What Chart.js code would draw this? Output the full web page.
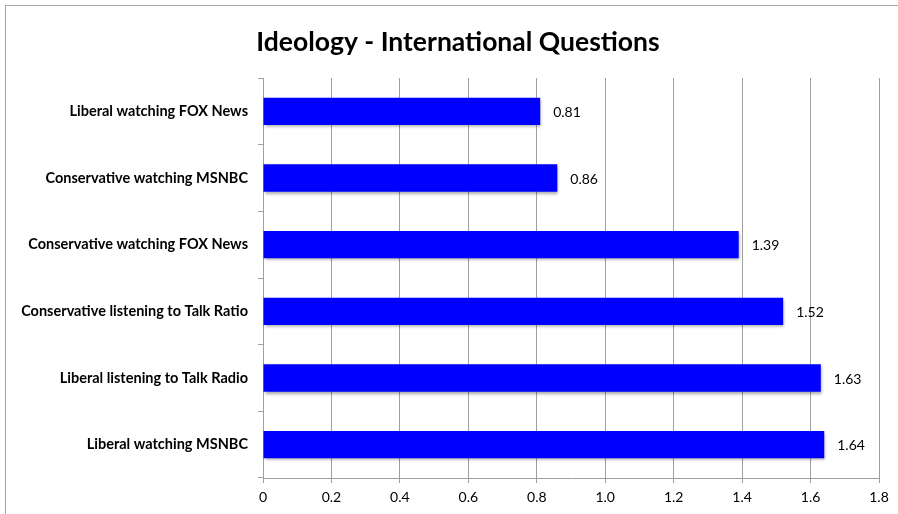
<!DOCTYPE html>
<html>
<head>
<meta charset="utf-8">
<script src="https://cdn.jsdelivr.net/npm/chart.js@4"></script>
<style>
  html, body { margin: 0; padding: 0; background: #fff; }
  #wrap { position: relative; width: 898px; height: 514px; overflow: hidden; }
  #frame { position: absolute; left: 5px; top: 5px; width: 1000px; height: 1000px; border: 1px solid #a6a6a6; }
  canvas { position: absolute; left: 0; top: 0; }
</style>
</head>
<body>
<div id="wrap">
  <div id="frame"></div>
  <canvas id="myChart" width="898" height="514"></canvas>
</div>
<script>
var categories = [
    "Liberal watching FOX News",
    "Conservative watching MSNBC",
    "Conservative watching FOX News",
    "Conservative listening to Talk Ratio",
    "Liberal listening to Talk Radio",
    "Liberal watching MSNBC"
];
var values = [0.81, 0.86, 1.39, 1.52, 1.63, 1.64];
var chartTitle = "Ideology - International Questions";

// title drawn by hand so it sits where the original one does
var titleText = {
    id: "titleText",
    afterDraw: function (chart) {
        var ctx = chart.ctx;
        ctx.save();
        ctx.font = "bold 26.5px Lato";
        ctx.fillStyle = "#000";
        ctx.textAlign = "center";
        ctx.textBaseline = "middle";
        ctx.fillText(chartTitle, 458, 42);
        ctx.restore();
    }
};

// writes the value next to each bar
var valueLabels = {
    id: "valueLabels",
    afterDatasetsDraw: function (chart) {
        var ctx = chart.ctx;
        var meta = chart.getDatasetMeta(0);
        ctx.save();
        ctx.font = "14px Lato";
        ctx.fillStyle = "#000";
        ctx.textBaseline = "middle";
        ctx.textAlign = "left";
        meta.data.forEach(function (bar, i) {
            ctx.fillText(values[i].toFixed(2), bar.x + 13, bar.y + 1);
        });
        ctx.restore();
    }
};

// soft shadow under the bars
var barShadow = {
    id: "barShadow",
    beforeDatasetsDraw: function (chart) {
        var ctx = chart.ctx;
        ctx.save();
        ctx.shadowColor = "rgba(0,0,0,0.35)";
        ctx.shadowBlur = 3;
        ctx.shadowOffsetX = 1;
        ctx.shadowOffsetY = 2;
    },
    afterDatasetsDraw: function (chart) {
        chart.ctx.restore();
    }
};

function run() {
    var ctx = document.getElementById("myChart").getContext("2d");
    new Chart(ctx, {
        type: "bar",
        data: {
            labels: categories,
            datasets: [{
                data: values,
                backgroundColor: "#0000ff",
                borderWidth: 0,
                barPercentage: 0.41,
                categoryPercentage: 1
            }]
        },
        options: {
            indexAxis: "y",
            responsive: false,
            animation: false,
            layout: { padding: { left: 0, right: 19, top: 78, bottom: 0 } },
            plugins: {
                legend: { display: false },
                tooltip: { enabled: false },
                title: { display: false }
            },
            scales: {
                x: {
                    min: 0,
                    max: 1.8,
                    ticks: {
                        stepSize: 0.2,
                        color: "#000",
                        font: { family: "Lato", size: 14 },
                        padding: 6
                    },
                    grid: { color: "#a0a0a0", tickLength: 5 },
                    border: { color: "#a0a0a0" },
                    afterFit: function (s) { s.height = 36; }
                },
                y: {
                    ticks: {
                        color: "#000",
                        font: { family: "Lato", size: 14.5, weight: "bold" },
                        padding: 10
                    },
                    grid: { drawOnChartArea: false, color: "#a0a0a0", tickLength: 5, offset: true },
                    border: { color: "#a0a0a0" },
                    afterFit: function (s) { s.width = 263; }
                }
            }
        },
        plugins: [barShadow, valueLabels, titleText]
    });
}

window.onload = run;
</script>
</body>
</html>
